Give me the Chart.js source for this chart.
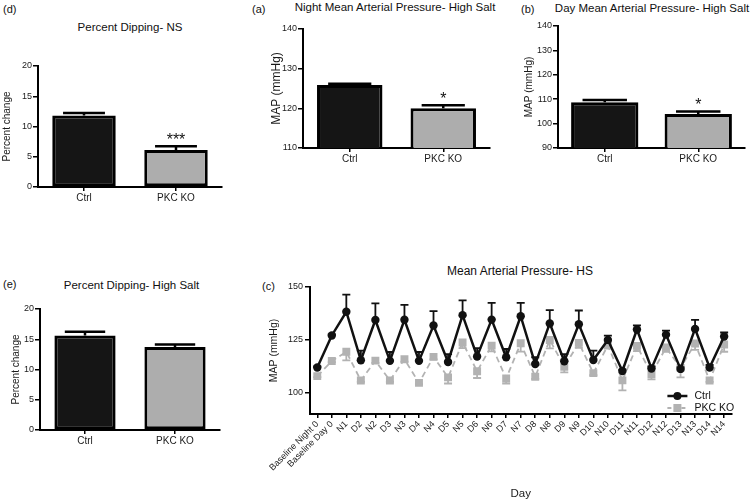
<!DOCTYPE html>
<html><head><meta charset="utf-8">
<script src="https://cdn.jsdelivr.net/npm/chart.js@4.4.1/dist/chart.umd.min.js"></script>
<style>
html,body{margin:0;padding:0;background:#fff;}
body{width:755px;height:503px;position:relative;overflow:hidden;font-family:"Liberation Sans",Arial,sans-serif;color:#111;}
canvas{position:absolute;}
.ttl{position:absolute;white-space:nowrap;font-size:11.5px;transform:translate(-50%,-50%);line-height:1;}
.let{position:absolute;white-space:nowrap;font-size:11px;transform:translateY(-50%);line-height:1;}
</style></head><body>
<div class="let" style="left:3px;top:8.5px">(d)</div>
<div class="let" style="left:252px;top:8.5px">(a)</div>
<div class="let" style="left:521px;top:8.5px">(b)</div>
<div class="let" style="left:3px;top:284px">(e)</div>
<div class="let" style="left:262px;top:286px">(c)</div>
<div class="ttl" style="left:130px;top:28px">Percent Dipping- NS</div>
<div class="ttl" style="left:395px;top:8px">Night Mean Arterial Pressure- High Salt</div>
<div class="ttl" style="left:652px;top:8.5px">Day Mean Arterial Pressure- High Salt</div>
<div class="ttl" style="left:131.5px;top:286px">Percent Dipping- High Salt</div>
<div class="ttl" style="left:520px;top:270.5px;font-size:12px">Mean Arterial Pressure- HS</div>
<canvas id="cd" width="227" height="162" style="left:0px;top:50px"></canvas>
<canvas id="ca" width="225" height="151" style="left:268px;top:19px"></canvas>
<canvas id="cb" width="228" height="154" style="left:522px;top:16px"></canvas>
<canvas id="ce" width="216" height="152" style="left:9px;top:300px"></canvas>
<canvas id="cc" width="470" height="223" style="left:267px;top:280px"></canvas>
<script>
// ---------- data ----------
const barCategories = ['Ctrl', 'PKC KO'];

const dipNSValues = [11.8, 6.1];
const dipNSErr = [0.45, 0.65];
const dipNSSig = ['', '***'];
const dipNSTicks = [0, 5, 10, 15, 20];

const nightMAPValues = [125.9, 120.0];
const nightMAPErr = [0.3, 0.8];
const nightMAPSig = ['', '*'];
const nightMAPTicks = [110, 120, 130, 140];

const dayMAPValues = [108.7, 103.9];
const dayMAPErr = [1.0, 1.1];
const dayMAPSig = ['', '*'];
const dayMAPTicks = [90, 100, 110, 120, 130, 140];

const dipHSValues = [15.6, 13.7];
const dipHSErr = [0.65, 0.45];
const dipHSSig = ['', ''];
const dipHSTicks = [0, 5, 10, 15, 20];

const dayLabels = ['Baseline Night 0', 'Baseline Day 0', 'N1', 'D2', 'N2', 'D3', 'N3', 'D4', 'N4', 'D5', 'N5', 'D6', 'N6', 'D7', 'N7', 'D8', 'N8', 'D9', 'N9', 'D10', 'N10', 'D11', 'N11', 'D12', 'N12', 'D13', 'N13', 'D14', 'N14'];
const ctrlMAP = [112.0, 127.1, 138.3, 115.4, 134.4, 115.1, 134.5, 115.1, 131.8, 114.6, 136.7, 117.2, 134.6, 116.8, 136.2, 113.6, 132.8, 114.9, 132.4, 115.5, 125.0, 110.3, 129.9, 111.5, 127.5, 111.3, 130.2, 112.0, 126.6];
const ctrlErr = [0.5, 0.5, 8.1, 4.5, 7.9, 4.2, 7.1, 4.2, 6.8, 3.7, 7.0, 3.9, 7.9, 3.9, 6.3, 3.2, 6.3, 3.4, 6.5, 4.4, 2.0, 0.6, 2.0, 1.0, 1.9, 1.0, 4.3, 1.2, 1.9];
const pkcMAP = [107.9, 115.0, 119.4, 105.8, 115.2, 105.8, 115.9, 104.7, 117.0, 107.3, 123.8, 110.2, 122.3, 106.8, 123.4, 107.6, 125.0, 112.3, 123.6, 109.3, 122.4, 105.9, 122.2, 108.8, 121.4, 111.8, 123.3, 105.8, 122.8];
const pkcErr = [0.5, 0.5, 4.1, 0.6, 1.0, 0.6, 1.2, 0.6, 1.2, 2.9, 2.7, 3.2, 2.7, 2.4, 3.9, 1.0, 4.0, 2.6, 2.4, 1.0, 1.2, 4.7, 2.5, 2.4, 2.0, 4.5, 3.0, 0.6, 3.4];
const mapTicks = [100, 125, 150];

// ---------- styles ----------
const FONT = '"Liberation Sans", Arial, sans-serif';
Chart.defaults.font.family = FONT;
Chart.defaults.color = '#1a1a1a';
const BLACK = '#151515';
const GRAY = '#adadad';
const LGRAY = '#b2b2b2';

function barChart(cfg) {
  const errPlugin = {
    id: 'errBars',
    afterDatasetsDraw(chart) {
      const ctx = chart.ctx;
      const meta = chart.getDatasetMeta(0);
      const ys = chart.scales.y;
      ctx.save();
      ctx.strokeStyle = '#000';
      ctx.lineWidth = 2.5;
      meta.data.forEach((bar, i) => {
        const v = cfg.values[i];
        const top = ys.getPixelForValue(v + cfg.errs[i]);
        const half = bar.width * 0.33;
        ctx.beginPath();
        ctx.moveTo(bar.x, bar.y);
        ctx.lineTo(bar.x, top);
        ctx.moveTo(bar.x - half, top);
        ctx.lineTo(bar.x + half, top);
        ctx.stroke();
        if (cfg.sig[i]) {
          ctx.fillStyle = '#111';
          ctx.font = '16px ' + FONT;
          ctx.textAlign = 'center';
          ctx.textBaseline = 'alphabetic';
          ctx.fillText(cfg.sig[i], bar.x, top - 1);
        }
      });
      ctx.restore();
    }
  };
  return new Chart(document.getElementById(cfg.id), {
    type: 'bar',
    data: {
      labels: barCategories,
      datasets: [{
        data: cfg.values,
        backgroundColor: [BLACK, GRAY],
        borderColor: '#000',
        borderWidth: 3,
        borderSkipped: false,
        barPercentage: cfg.barPct,
        categoryPercentage: 1
      }]
    },
    options: {
      responsive: false, animation: false, events: [],
      layout: { padding: { top: cfg.padTop, right: cfg.padRight, left: 0, bottom: 0 } },
      plugins: { legend: { display: false }, tooltip: { enabled: false } },
      scales: {
        x: {
          grid: { display: true, drawOnChartArea: false, drawTicks: true, tickLength: 4, color: '#000', lineWidth: 1.5, offset: false },
          border: { display: true, color: '#000', width: 2 },
          ticks: { color: '#1a1a1a', font: { size: 10 }, padding: 1 },
          afterFit: s => { s.height = cfg.xAxisH; s.paddingLeft = 0; s.paddingRight = 0; }
        },
        y: {
          min: cfg.ticks[0], max: cfg.ticks[cfg.ticks.length - 1],
          afterBuildTicks: s => { s.ticks = cfg.ticks.map(v => ({ value: v })); },
          grid: { display: true, drawOnChartArea: false, drawTicks: true, tickLength: 5, color: '#000', lineWidth: 1.5 },
          border: { display: true, color: '#000', width: 2 },
          ticks: { color: '#1a1a1a', font: { size: 9 }, padding: 1 },
          title: { display: true, text: cfg.yTitle, color: '#1a1a1a', font: { size: cfg.yTitleSize }, padding: { top: cfg.yTitlePad, bottom: 0 } },
          afterFit: s => { s.width = cfg.yAxisW; s.paddingTop = 0; s.paddingBottom = 0; }
        }
      }
    },
    plugins: [errPlugin]
  });
}

barChart({ id: 'cd', values: dipNSValues, errs: dipNSErr, sig: dipNSSig, ticks: dipNSTicks,
  padTop: 16, padRight: 5, yAxisW: 38, xAxisH: 25, barPct: 0.69,
  yTitle: 'Percent change', yTitleSize: 10, yTitlePad: 1.5 });
barChart({ id: 'ca', values: nightMAPValues, errs: nightMAPErr, sig: nightMAPSig, ticks: nightMAPTicks,
  padTop: 10, padRight: 3, yAxisW: 35, xAxisH: 22, barPct: 0.7,
  yTitle: 'MAP (mmHg)', yTitleSize: 12, yTitlePad: 1 });
barChart({ id: 'cb', values: dayMAPValues, errs: dayMAPErr, sig: dayMAPSig, ticks: dayMAPTicks,
  padTop: 10, padRight: 5, yAxisW: 36, xAxisH: 22, barPct: 0.72,
  yTitle: 'MAP (mmHg)', yTitleSize: 10, yTitlePad: 1 });
barChart({ id: 'ce', values: dipHSValues, errs: dipHSErr, sig: dipHSSig, ticks: dipHSTicks,
  padTop: 9, padRight: 5, yAxisW: 31, xAxisH: 22, barPct: 0.68,
  yTitle: 'Percent change', yTitleSize: 10, yTitlePad: 1.5 });

// ---------- line chart ----------
const lineErrPlugin = {
  id: 'lineErr',
  beforeDatasetsDraw(chart) {
    const ctx = chart.ctx;
    const ys = chart.scales.y;
    const sets = [
      { meta: chart.getDatasetMeta(1), vals: pkcMAP, errs: pkcErr, dir: -1, color: LGRAY },
      { meta: chart.getDatasetMeta(0), vals: ctrlMAP, errs: ctrlErr, dir: 1, color: '#111' }
    ];
    ctx.save();
    ctx.lineWidth = 1.8;
    sets.forEach(s => {
      ctx.strokeStyle = s.color;
      s.meta.data.forEach((pt, i) => {
        const end = ys.getPixelForValue(s.vals[i] + s.dir * s.errs[i]);
        ctx.beginPath();
        ctx.moveTo(pt.x, pt.y);
        ctx.lineTo(pt.x, end);
        ctx.moveTo(pt.x - 4, end);
        ctx.lineTo(pt.x + 4, end);
        ctx.stroke();
      });
    });
    ctx.restore();
  },
  afterDraw(chart) {
    const ctx = chart.ctx;
    const a = chart.chartArea;
    const x0 = a.right - 64;
    ctx.save();
    // Ctrl
    let y = a.bottom - 18;
    ctx.strokeStyle = '#111'; ctx.lineWidth = 2.5; ctx.setLineDash([]);
    ctx.beginPath(); ctx.moveTo(x0, y); ctx.lineTo(x0 + 20, y); ctx.stroke();
    ctx.fillStyle = '#111';
    ctx.beginPath(); ctx.arc(x0 + 10, y, 4, 0, Math.PI * 2); ctx.fill();
    ctx.font = '10.5px ' + FONT; ctx.textAlign = 'left'; ctx.textBaseline = 'middle';
    ctx.fillText(chart.data.datasets[0].label, x0 + 27, y);
    // PKC KO
    y = a.bottom - 6;
    ctx.strokeStyle = LGRAY; ctx.lineWidth = 1.8; ctx.setLineDash([4, 3]);
    ctx.beginPath(); ctx.moveTo(x0, y); ctx.lineTo(x0 + 20, y); ctx.stroke();
    ctx.setLineDash([]);
    ctx.fillStyle = LGRAY;
    ctx.fillRect(x0 + 6, y - 4, 8, 8);
    ctx.fillStyle = '#111';
    ctx.fillText(chart.data.datasets[1].label, x0 + 27, y);
    ctx.restore();
  }
};

new Chart(document.getElementById('cc'), {
  type: 'line',
  data: {
    labels: dayLabels,
    datasets: [
      { label: 'Ctrl', data: ctrlMAP, borderColor: '#111', backgroundColor: '#111',
        borderWidth: 2.5, pointStyle: 'circle', pointRadius: 4.2, pointBorderWidth: 0,
        pointBackgroundColor: '#111', tension: 0 },
      { label: 'PKC KO', data: pkcMAP, borderColor: LGRAY, backgroundColor: LGRAY,
        borderWidth: 1.8, borderDash: [6, 4], pointStyle: 'rect', pointRadius: 5.6, pointBorderWidth: 0,
        pointBackgroundColor: LGRAY, tension: 0 }
    ]
  },
  options: {
    responsive: false, animation: false, events: [],
    layout: { padding: { top: 7, right: 5, left: 0, bottom: 0 } },
    plugins: { legend: { display: false }, tooltip: { enabled: false } },
    scales: {
      x: {
        offset: true,
        grid: { display: true, drawOnChartArea: false, drawTicks: true, tickLength: 4, color: '#000', lineWidth: 1.5, offset: false },
        border: { display: true, color: '#000', width: 2 },
        ticks: { autoSkip: false, maxRotation: 45, minRotation: 45, color: '#1a1a1a', font: { size: 9 }, padding: 1 },
        title: { display: true, text: 'Day', color: '#1a1a1a', font: { size: 11.5 }, padding: { top: 0, bottom: 2 } },
        afterFit: s => { s.height = 89; s.paddingLeft = 0; s.paddingRight = 0; }
      },
      y: {
        min: 90, max: 150,
        afterBuildTicks: s => { s.ticks = mapTicks.map(v => ({ value: v })); },
        grid: { display: true, drawOnChartArea: false, drawTicks: true, tickLength: 5, color: '#000', lineWidth: 1.5 },
        border: { display: true, color: '#000', width: 2 },
        ticks: { color: '#1a1a1a', font: { size: 9 }, padding: 2 },
        title: { display: true, text: 'MAP (mmHg)', color: '#1a1a1a', font: { size: 10.5 }, padding: { top: 1, bottom: 0 } },
        afterFit: s => { s.width = 43; s.paddingTop = 0; s.paddingBottom = 0; }
      }
    }
  },
  plugins: [lineErrPlugin]
});
</script>
</body></html>
